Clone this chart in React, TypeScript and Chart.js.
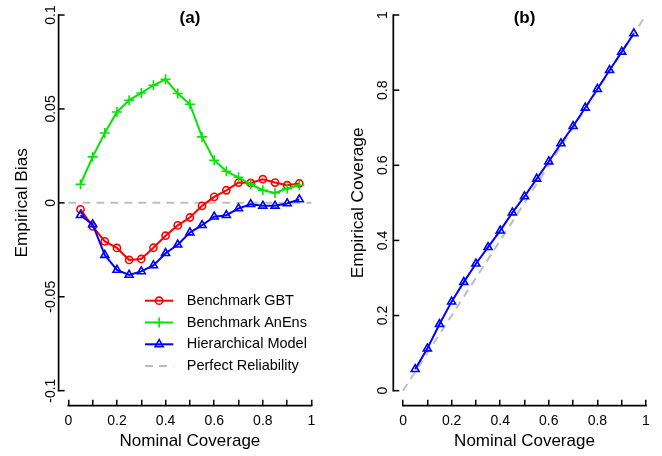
import React, { useEffect, useRef } from 'react';
import { Chart, registerables } from 'chart.js';
import { drawPoint } from 'chart.js/helpers';

Chart.register(...registerables);

// ---------------- data ----------------
const coverage = [0.05, 0.10, 0.15, 0.20, 0.25, 0.30, 0.35, 0.40, 0.45, 0.50, 0.55, 0.60, 0.65, 0.70, 0.75, 0.80, 0.85, 0.90, 0.95];

const gbtBias = [-0.0035, -0.0125, -0.0205, -0.0240, -0.0304, -0.0299, -0.0239, -0.0175, -0.0120, -0.0078, -0.0016, 0.0032, 0.0067, 0.0108, 0.0106, 0.0126, 0.0108, 0.0094, 0.0103];
const anensBias = [0.0099, 0.0245, 0.0372, 0.0484, 0.0546, 0.0585, 0.0626, 0.0658, 0.0582, 0.0525, 0.0351, 0.0227, 0.0168, 0.0136, 0.0099, 0.0067, 0.0053, 0.0076, 0.0094];
const hierBias = [-0.0066, -0.0115, -0.0278, -0.0357, -0.0384, -0.0365, -0.0333, -0.0268, -0.0223, -0.0158, -0.0119, -0.0074, -0.0066, -0.0030, -0.0007, -0.0016, -0.0016, -0.0003, 0.0018];

const hierCoverage = [0.057, 0.112, 0.177, 0.237, 0.289, 0.338, 0.382, 0.426, 0.474, 0.517, 0.564, 0.610, 0.658, 0.704, 0.753, 0.803, 0.853, 0.902, 0.951];

const perfectBiasX = [0, 1];
const perfectBiasY = [0, 0];
const perfectCovX = [0, 1];
const perfectCovY = [0, 1];

const xTicks = [0, 0.1, 0.2, 0.3, 0.4, 0.5, 0.6, 0.7, 0.8, 0.9, 1];
const xTickLabels = ['0', '', '0.2', '', '0.4', '', '0.6', '', '0.8', '', '1'];
const biasTicks = [-0.1, -0.05, 0, 0.05, 0.1];
const biasTickLabels = ['-0.1', '-0.05', '0', '0.05', '0.1'];
const covTicks = [0, 0.2, 0.4, 0.6, 0.8, 1];
const covTickLabels = ['0', '0.2', '0.4', '0.6', '0.8', '1'];

const seriesLabels = ['Benchmark GBT', 'Benchmark AnEns', 'Hierarchical Model', 'Perfect Reliability'];

// ---------------- styling ----------------
const FONT = "'Liberation Sans', Arial, Helvetica, sans-serif";
const RED = '#ff0000';
const GREEN = '#00e600';
const BLUE = '#0000ff';
const GRAY = '#bebebe';
const AXIS_LW = 1.7;
const TICK_LEN = 6;

const toPts = (xs: number[], ys: number[]) => xs.map((x, i) => ({ x, y: ys[i] }));

function seriesDs(label: string, ys: number[], color: string, pointStyle: string, radius: number, order: number) {
  return {
    label,
    data: toPts(coverage, ys),
    borderColor: color,
    backgroundColor: 'rgba(0,0,0,0)',
    borderWidth: 2,
    pointStyle,
    pointRadius: radius,
    pointBorderColor: color,
    pointBackgroundColor: 'rgba(0,0,0,0)',
    pointBorderWidth: 1.6,
    tension: 0,
    order,
  };
}

function dashedDs(label: string, xs: number[], ys: number[], order: number) {
  return {
    label,
    data: toPts(xs, ys),
    borderColor: GRAY,
    backgroundColor: 'rgba(0,0,0,0)',
    borderWidth: 2,
    borderDash: [8, 6],
    pointRadius: 0,
    tension: 0,
    order,
  };
}

// R-style detached axis lines (from first to last tick) with inward y ticks
function makeAxesPlugin(yTicks: number[]) {
  return {
    id: 'rAxes',
    afterDatasetsDraw(chart: any) {
      const { ctx, chartArea } = chart;
      const y = chart.scales.y;
      const ya = y.getPixelForValue(yTicks[yTicks.length - 1]);
      const yb = y.getPixelForValue(yTicks[0]);
      ctx.save();
      ctx.strokeStyle = '#000';
      ctx.lineWidth = AXIS_LW;
      ctx.lineCap = 'butt';
      ctx.beginPath();
      ctx.moveTo(chartArea.left, ya - AXIS_LW / 2);
      ctx.lineTo(chartArea.left, yb + AXIS_LW / 2);
      ctx.stroke();
      ctx.lineWidth = 1.5;
      yTicks.forEach((v) => {
        const py = y.getPixelForValue(v);
        ctx.beginPath();
        ctx.moveTo(chartArea.left, py);
        ctx.lineTo(chartArea.left + TICK_LEN, py);
        ctx.stroke();
      });
      ctx.restore();
    },
    afterDraw(chart: any) {
      const { ctx, chartArea } = chart;
      const x = chart.scales.x;
      const xa = x.getPixelForValue(xTicks[0]);
      const xb = x.getPixelForValue(xTicks[xTicks.length - 1]);
      ctx.save();
      ctx.strokeStyle = '#000';
      ctx.lineWidth = AXIS_LW;
      ctx.lineCap = 'butt';
      ctx.beginPath();
      ctx.moveTo(xa - AXIS_LW / 2, chartArea.bottom);
      ctx.lineTo(xb + AXIS_LW / 2, chartArea.bottom);
      ctx.stroke();
      ctx.restore();
    },
  };
}

function makeTitlePlugin(text: string) {
  return {
    id: 'panelTitle',
    afterDraw(chart: any) {
      const { ctx, chartArea } = chart;
      ctx.save();
      ctx.font = `bold 17px ${FONT}`;
      ctx.fillStyle = '#000';
      ctx.textAlign = 'center';
      ctx.textBaseline = 'middle';
      ctx.fillText(text, (chartArea.left + chartArea.right) / 2, chartArea.top + 18.5);
      ctx.restore();
    },
  };
}

const rLegendPlugin = {
  id: 'rLegend',
  afterDatasetsDraw(chart: any) {
    const { ctx } = chart;
    const lx = 145, ly = 300.7, row = 21.8, len = 28.3, gap = 13.5;
    ctx.save();
    chart.data.datasets.forEach((ds: any, i: number) => {
      const y = ly + i * row;
      const x0 = lx;
      const x1 = lx + len;
      ctx.strokeStyle = ds.borderColor;
      ctx.lineWidth = ds.borderWidth;
      ctx.setLineDash(ds.borderDash || []);
      ctx.beginPath();
      ctx.moveTo(x0, y);
      ctx.lineTo(x1, y);
      ctx.stroke();
      ctx.setLineDash([]);
      if (ds.pointRadius > 0) {
        ctx.lineWidth = ds.pointBorderWidth;
        ctx.strokeStyle = ds.pointBorderColor;
        ctx.fillStyle = 'rgba(0,0,0,0)';
        drawPoint(ctx, { pointStyle: ds.pointStyle, radius: ds.pointRadius, borderWidth: ds.pointBorderWidth, rotation: 0 } as any, (x0 + x1) / 2, y);
      }
      ctx.fillStyle = '#000';
      ctx.font = `14.5px ${FONT}`;
      ctx.textAlign = 'left';
      ctx.textBaseline = 'middle';
      ctx.fillText(ds.label, x1 + gap, y);
    });
    ctx.restore();
  },
};

function makeOptions(p: {
  yMin: number; yMax: number; yTicks: number[]; yLabels: string[]; yTitle: string;
  yWidth: number; yTickPad: number; yTitlePad: number; padRight: number;
}) {
  return {
    animation: false,
    responsive: false,
    maintainAspectRatio: false,
    devicePixelRatio: 1,
    events: [],
    layout: { autoPadding: false, padding: { left: 0, right: p.padRight, top: 0, bottom: 0 } },
    scales: {
      x: {
        type: 'linear',
        min: -0.04,
        max: 1.04,
        afterBuildTicks: (s: any) => { s.ticks = xTicks.map((v) => ({ value: v })); },
        afterFit: (s: any) => { s.height = 50.3; s.paddingLeft = 0; s.paddingRight = 0; },
        border: { display: false },
        grid: { display: true, drawOnChartArea: false, drawTicks: true, tickLength: -TICK_LEN, color: '#000', lineWidth: 1.5 },
        ticks: {
          autoSkip: false,
          maxRotation: 0,
          minRotation: 0,
          padding: 12.7,
          color: '#000',
          font: { family: FONT, size: 14 },
          callback: (v: any) => { const i = xTicks.findIndex((t) => Math.abs(t - v) < 1e-9); return i >= 0 ? xTickLabels[i] : ''; },
        },
        title: { display: true, text: 'Nominal Coverage', color: '#000', font: { family: FONT, size: 17 }, padding: { top: 0, bottom: 4.8 } },
      },
      y: {
        type: 'linear',
        min: p.yMin,
        max: p.yMax,
        afterBuildTicks: (s: any) => { s.ticks = p.yTicks.map((v) => ({ value: v })); },
        afterFit: (s: any) => { s.width = p.yWidth; s.paddingTop = 0; s.paddingBottom = 0; },
        border: { display: false },
        grid: { display: false, drawOnChartArea: false, drawTicks: true, tickLength: -TICK_LEN },
        ticks: {
          autoSkip: false,
          minRotation: 90,
          maxRotation: 90,
          crossAlign: 'center',
          padding: p.yTickPad,
          color: '#000',
          font: { family: FONT, size: 14 },
          callback: (v: any) => { const i = p.yTicks.findIndex((t) => Math.abs(t - v) < 1e-9); return i >= 0 ? p.yLabels[i] : ''; },
        },
        title: { display: true, text: p.yTitle, color: '#000', font: { family: FONT, size: 17.3 }, padding: { top: p.yTitlePad, bottom: 0 } },
      },
    },
    plugins: {
      legend: { display: false },
      tooltip: { enabled: false },
      title: { display: false },
    },
  };
}

export default function App() {
  const leftRef = useRef<HTMLCanvasElement | null>(null);
  const rightRef = useRef<HTMLCanvasElement | null>(null);

  useEffect(() => {
    const left = new Chart(leftRef.current as HTMLCanvasElement, {
      type: 'line',
      data: {
        datasets: [
          seriesDs(seriesLabels[0], gbtBias, RED, 'circle', 3.6, 3),
          seriesDs(seriesLabels[1], anensBias, GREEN, 'cross', 5, 2),
          seriesDs(seriesLabels[2], hierBias, BLUE, 'triangle', 4.6, 1),
          dashedDs(seriesLabels[3], perfectBiasX, perfectBiasY, 4),
        ] as any,
      },
      options: makeOptions({
        yMin: -0.108, yMax: 0.108, yTicks: biasTicks, yLabels: biasTickLabels, yTitle: 'Empirical Bias',
        yWidth: 58.6, yTickPad: -2.3, yTitlePad: 12, padRight: 9.8,
      }) as any,
      plugins: [makeAxesPlugin(biasTicks), makeTitlePlugin('(a)'), rLegendPlugin],
    });

    const right = new Chart(rightRef.current as HTMLCanvasElement, {
      type: 'line',
      data: {
        datasets: [
          seriesDs(seriesLabels[2], hierCoverage, BLUE, 'triangle', 4.6, 1),
          dashedDs(seriesLabels[3], perfectCovX, perfectCovY, 4),
        ] as any,
      },
      options: makeOptions({
        yMin: -0.04, yMax: 1.04, yTicks: covTicks, yLabels: covTickLabels, yTitle: 'Empirical Coverage',
        yWidth: 62.3, yTickPad: 6.8, yTitlePad: 16.5, padRight: 6.3,
      }) as any,
      plugins: [makeAxesPlugin(covTicks), makeTitlePlugin('(b)')],
    });

    return () => {
      left.destroy();
      right.destroy();
    };
  }, []);

  return (
    <div style={{ position: 'absolute', left: 0, top: 0, width: 662, height: 456, background: '#fff' }}>
      <canvas ref={leftRef} width={331} height={456} style={{ position: 'absolute', left: 0, top: 0 }} />
      <canvas ref={rightRef} width={331} height={456} style={{ position: 'absolute', left: 331, top: 0 }} />
    </div>
  );
}
